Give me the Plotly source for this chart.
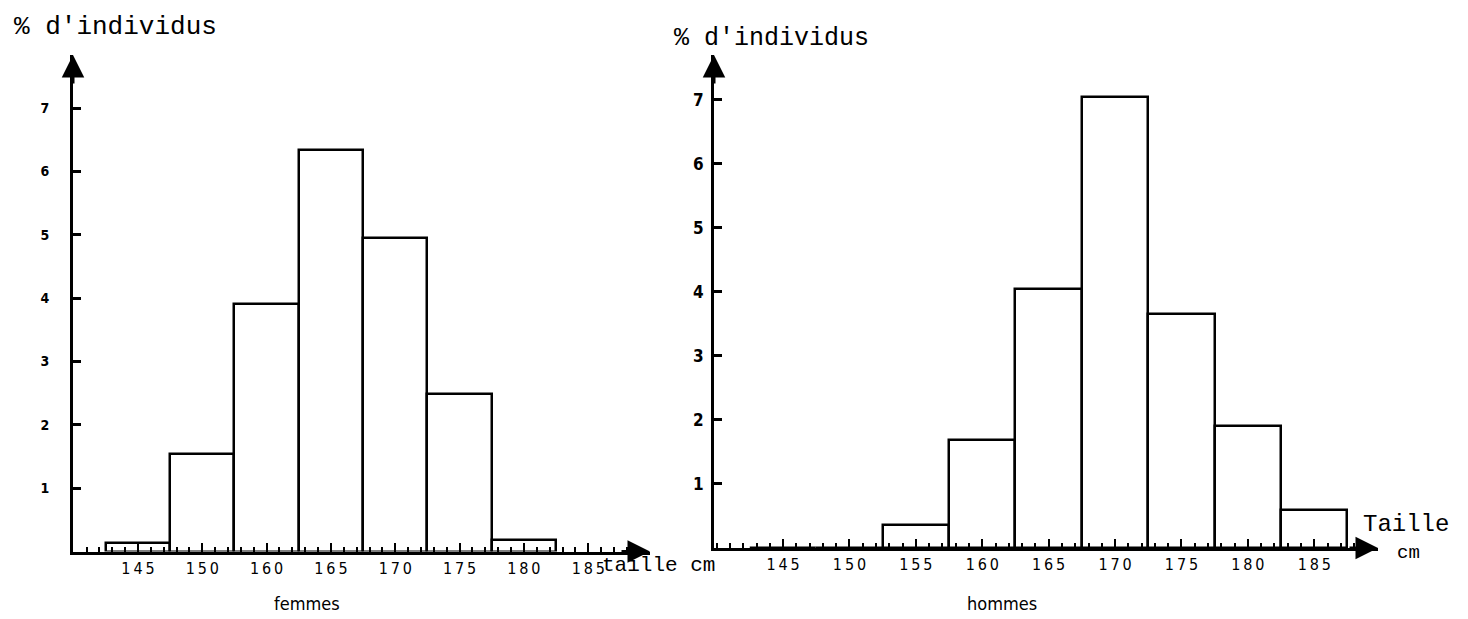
import plotly.graph_objects as go
from plotly.subplots import make_subplots

# femmes: bin labels as printed on the axis (the "155" bin is printed "160")
femmes_ticks = ["145", "150", "160", "165", "170", "175", "180", "185"]
femmes_pct = [0.13, 1.54, 3.91, 6.34, 4.95, 2.49, 0.18]

# hommes
hommes_ticks = ["145", "150", "155", "160", "165", "170", "175", "180", "185"]
hommes_pct = [0, 0, 0.36, 1.68, 4.04, 7.04, 3.66, 1.90, 0.60]

y_ticks = [1, 2, 3, 4, 5, 6, 7]

# the page body has an 8px margin, so the figure is drawn 8px in and 8px smaller
OFF = 8
W, H = 1468 - OFF, 619 - OFF
mono = "Liberation Mono, Courier New, monospace"
narrow = "Liberation Sans Narrow, DejaVu Sans Condensed, Arial Narrow, sans-serif"


def px_x(p):
    return (p - OFF) / W


def px_y(p):
    return 1 - (p - OFF) / H


def spaced(s):
    return "\u2009".join(s)


fig = make_subplots(rows=1, cols=2)

fig.add_trace(go.Bar(x=list(range(len(femmes_pct))), y=femmes_pct, width=1,
                     marker=dict(color="white", line=dict(color="black", width=2.5))),
              row=1, col=1)
fig.add_trace(go.Bar(x=list(range(len(hommes_pct))), y=hommes_pct, width=1,
                     marker=dict(color="white", line=dict(color="black", width=2.5))),
              row=1, col=2)

common_x = dict(showgrid=False, zeroline=False, showline=True, linecolor="black", linewidth=3,
                ticks="inside", ticklen=9, tickwidth=1.5, tickcolor="black",
                minor=dict(ticks="inside", ticklen=5, tickwidth=1.5, tickcolor="black", dtick=0.2),
                ticklabelstandoff=0, fixedrange=True)
common_y = dict(showgrid=False, zeroline=False, showline=True, linecolor="black", linewidth=3,
                ticks="inside", ticklen=8, tickwidth=2.5, tickcolor="black",
                tickvals=y_ticks, fixedrange=True)

fig.update_xaxes(common_x, row=1, col=1,
                 domain=[px_x(73), px_x(650)], range=[-1.01, 7.96],
                 tickvals=list(range(len(femmes_ticks))),
                 ticktext=[spaced(t) for t in femmes_ticks],
                 tick0=0,
                 tickfont=dict(family=narrow, size=16, color="black"))
fig.update_xaxes(common_x, row=1, col=2,
                 domain=[px_x(714), px_x(1378)], range=[-1.04, 8.96],
                 tickvals=list(range(len(hommes_ticks))),
                 ticktext=[spaced(t) for t in hommes_ticks],
                 tick0=0,
                 tickfont=dict(family=narrow, size=16, color="black"))
fig.update_yaxes(common_y, row=1, col=1,
                 domain=[px_y(551.5), px_y(55)], range=[0, 7.84],
                 ticklabelstandoff=18,
                 tickfont=dict(family=narrow, size=14, color="black", weight="bold"))
fig.update_yaxes(common_y, row=1, col=2,
                 domain=[px_y(548), px_y(55)], range=[0, 7.7],
                 ticklabelstandoff=4,
                 tickfont=dict(family=narrow, size=17, color="black", weight="bold"))

annotations = [
    # arrowheads on the axes
    dict(xref="x domain", yref="y domain", x=1, y=0, ax=-30, ay=0, text=""),
    dict(xref="x domain", yref="y domain", x=0, y=1, ax=0, ay=30, text=""),
    dict(xref="x2 domain", yref="y2 domain", x=1, y=0, ax=-30, ay=0, text=""),
    dict(xref="x2 domain", yref="y2 domain", x=0, y=1, ax=0, ay=30, text=""),
]
for a in annotations:
    a.update(showarrow=True, arrowhead=2, arrowsize=1.5, arrowwidth=3, arrowcolor="black")

labels = [
    dict(x=px_x(12), y=px_y(27), text="% d'individus", xanchor="left",
         font=dict(family=mono, size=26)),
    dict(x=px_x(672), y=px_y(38), text="% d'individus", xanchor="left",
         font=dict(family=mono, size=25)),
    dict(x=px_x(600), y=px_y(565), text="taille cm", xanchor="left",
         font=dict(family=mono, size=21)),
    dict(x=px_x(1362), y=px_y(524), text="Taille", xanchor="left",
         font=dict(family=mono, size=24), borderpad=0),
    dict(x=px_x(1408), y=px_y(553), text="cm", xanchor="center",
         font=dict(family=mono, size=19), borderpad=0),
    dict(x=px_x(307), y=px_y(603), text="femmes", xanchor="center",
         font=dict(family=narrow, size=18)),
    dict(x=px_x(1002), y=px_y(603), text="hommes", xanchor="center",
         font=dict(family=narrow, size=18)),
]
for a in labels:
    a.update(xref="paper", yref="paper", showarrow=False, yanchor="middle")
    a["font"]["color"] = "black"

fig.update_layout(
    width=W, height=H,
    margin=dict(l=0, r=0, t=0, b=0),
    paper_bgcolor="white", plot_bgcolor="white",
    showlegend=False, bargap=0,
    annotations=annotations + labels,
)

fig.write_html("out.html")
